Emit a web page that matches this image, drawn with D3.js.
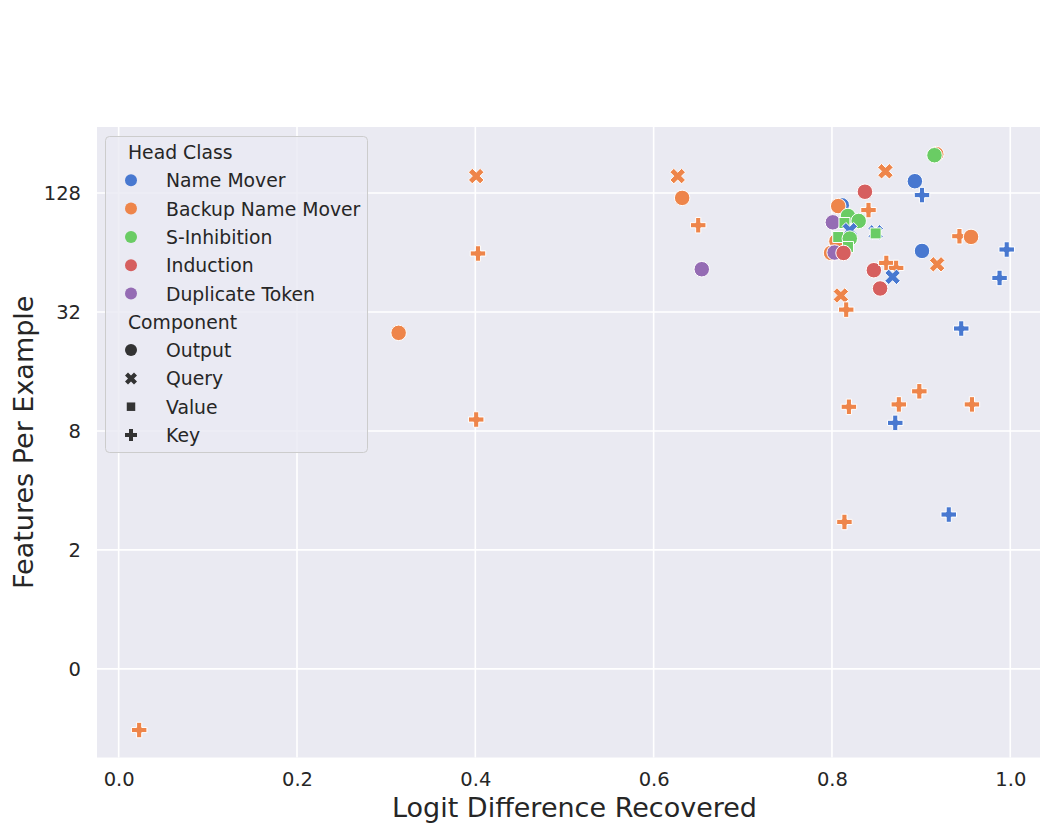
<!DOCTYPE html>
<html>
  <head>
    <title>Features per example vs logit difference</title>
    <script src="https://d3js.org/d3.v7.min.js"></script>
    <style>
      body { margin: 0; background: #fff; }
      text { font-family: "DejaVu Sans", sans-serif; fill: #262626; }
    </style>
  </head>

  <body>
    <svg width="1040" height="828"></svg>

    <script type="text/javascript">
      // legend groups
      var headClasses = ["Name Mover", "Backup Name Mover", "S-Inhibition", "Induction", "Duplicate Token"];
      var components = ["Output", "Query", "Value", "Key"];

      // one entry per head, in drawing order
      var logitDiff = [
        0.917, 0.915, 0.860, 0.893, 0.837, 0.901, 0.627, 0.632, 0.401, 0.403,
        0.650, 0.654, 0.811, 0.807, 0.841, 0.818, 0.830, 0.801, 0.814, 0.820,
        0.849, 0.849, 0.805, 0.807, 0.820, 0.818, 0.799, 0.803, 0.813, 0.847,
        0.861, 0.872, 0.868, 0.854, 0.901, 0.918, 0.810, 0.816, 0.943, 0.956,
        0.996, 0.988, 0.945, 0.898, 0.819, 0.875, 0.957, 0.871, 0.814, 0.931,
        0.314, 0.401, 0.023
      ];
      var featuresPerExample = [
        201.5, 199, 165, 147, 130, 125, 156, 121, 156, 63.3,
        88, 52.7, 111, 110, 105, 98, 92.5, 91, 90.3, 83,
        81, 80, 73, 76.7, 75.3, 68.3, 63.7, 64, 63.7, 52.1,
        56.7, 53.5, 48.2, 42.1, 65.2, 55.8, 38.8, 32.9, 77.4, 76.8,
        66.3, 47.6, 26.4, 12.7, 10.6, 10.9, 10.9, 8.79, 2.77, 3.02,
        25.1, 9.14, 0.245
      ];
      var headClass = [
        "Backup Name Mover", "S-Inhibition", "Backup Name Mover", "Name Mover", "Induction",
        "Name Mover", "Backup Name Mover", "Backup Name Mover", "Backup Name Mover", "Backup Name Mover",
        "Backup Name Mover", "Duplicate Token", "Name Mover", "Backup Name Mover", "Backup Name Mover",
        "S-Inhibition", "S-Inhibition", "Duplicate Token", "S-Inhibition", "Name Mover",
        "Name Mover", "S-Inhibition", "Backup Name Mover", "S-Inhibition", "S-Inhibition",
        "S-Inhibition", "Backup Name Mover", "Duplicate Token", "Induction", "Induction",
        "Backup Name Mover", "Backup Name Mover", "Name Mover", "Induction", "Name Mover",
        "Backup Name Mover", "Backup Name Mover", "Backup Name Mover", "Backup Name Mover", "Backup Name Mover",
        "Name Mover", "Name Mover", "Name Mover", "Backup Name Mover", "Backup Name Mover",
        "Backup Name Mover", "Backup Name Mover", "Name Mover", "Backup Name Mover", "Name Mover",
        "Backup Name Mover", "Backup Name Mover", "Backup Name Mover"
      ];
      var component = [
        "Output", "Output", "Query", "Output", "Output",
        "Key", "Query", "Output", "Query", "Key",
        "Key", "Output", "Output", "Output", "Key",
        "Output", "Output", "Output", "Value", "Query",
        "Query", "Value", "Output", "Value", "Output",
        "Value", "Output", "Output", "Output", "Output",
        "Key", "Key", "Query", "Output", "Output",
        "Query", "Query", "Key", "Key", "Output",
        "Key", "Key", "Key", "Key", "Key",
        "Key", "Key", "Key", "Key", "Key",
        "Output", "Key", "Key"
      ];

      // axis ticks
      var xTicks = [0, 0.2, 0.4, 0.6, 0.8, 1.0];
      var yTicks = [0.5, 2, 8, 32, 128];
      var yTickLabels = ["0", "2", "8", "32", "128"];

      var svg = d3.select("svg");
      var plotLeft = 97, plotRight = 1052, plotTop = 127, plotBottom = 757.5;

      var x = d3.scaleLinear().domain([-0.0243, 1.0468]).range([plotLeft, plotRight]);
      var y = d3.scaleLog().base(2)
        .domain([Math.pow(2, -2.491), Math.pow(2, 8.111)])
        .range([plotBottom, plotTop]);

      var color = d3.scaleOrdinal()
        .domain(headClasses)
        .range(["#4878d0", "#ee854a", "#6acc64", "#d65f5f", "#956cb4"]);

      // matplotlib-like filled markers, s = box size
      function markerPath(kind, s) {
        var h = s / 2;
        var pts;
        if (kind == "Output") {
          return "M" + h + ",0A" + h + "," + h + " 0 1,1 " + (-h) + ",0A" + h + "," + h + " 0 1,1 " + h + ",0Z";
        } else if (kind == "Value") {
          var a = s * 0.3536;
          pts = [[-a, -a], [a, -a], [a, a], [-a, a]];
        } else if (kind == "Key") {
          var t = s / 6;
          pts = [[-t, -h], [t, -h], [t, -t], [h, -t], [h, t], [t, t], [t, h], [-t, h], [-t, t], [-h, t], [-h, -t], [-t, -t]];
        } else {
          var q = s / 4;
          pts = [[-q, -h], [0, -q], [q, -h], [h, -q], [q, 0], [h, q], [q, h], [0, q], [-q, h], [-h, q], [-q, 0], [-h, -q]];
        }
        return "M" + pts.map(function (p) { return p[0].toFixed(2) + "," + p[1].toFixed(2); }).join("L") + "Z";
      }

      svg.append("defs").append("clipPath").attr("id", "plot-clip")
        .append("rect").attr("x", plotLeft).attr("y", plotTop)
        .attr("width", plotRight - plotLeft).attr("height", plotBottom - plotTop);

      svg.append("rect")
        .attr("x", plotLeft).attr("y", plotTop)
        .attr("width", plotRight - plotLeft).attr("height", plotBottom - plotTop)
        .style("fill", "#eaeaf2");

      var grid = svg.append("g").attr("id", "grid");
      grid.selectAll("line.vx")
        .data(xTicks).enter().append("line")
        .attr("x1", function (d) { return x(d); })
        .attr("x2", function (d) { return x(d); })
        .attr("y1", plotTop).attr("y2", plotBottom)
        .style("stroke", "#fff").style("stroke-width", 1.6);
      grid.selectAll("line.hy")
        .data(yTicks).enter().append("line")
        .attr("y1", function (d) { return y(d); })
        .attr("y2", function (d) { return y(d); })
        .attr("x1", plotLeft).attr("x2", plotRight)
        .style("stroke", "#fff").style("stroke-width", 1.6);

      // axes with seaborn look: no domain, no tick marks
      var xAxis = d3.axisBottom(x).tickValues(xTicks).tickFormat(d3.format(".1f")).tickSize(0).tickPadding(15);
      var gx = svg.append("g").attr("transform", "translate(0," + plotBottom + ")").call(xAxis);
      var yAxis = d3.axisLeft(y).tickValues(yTicks)
        .tickFormat(function (d, i) { return yTickLabels[i]; })
        .tickSize(0).tickPadding(16);
      var gy = svg.append("g").attr("transform", "translate(" + plotLeft + ",0)").call(yAxis);
      [gx, gy].forEach(function (g) {
        g.select(".domain").remove();
        g.selectAll("text").style("font-size", "19.5px").style("fill", "#262626")
          .style("font-family", "'DejaVu Sans', sans-serif");
      });

      var idx = d3.range(logitDiff.length);
      svg.append("g").attr("id", "points").attr("clip-path", "url(#plot-clip)")
        .selectAll("path")
        .data(idx).enter().append("path")
        .attr("d", function (i) { return markerPath(component[i], 15.5); })
        .attr("transform", function (i) {
          return "translate(" + x(logitDiff[i]) + "," + y(featuresPerExample[i]) + ")";
        })
        .style("fill", function (i) { return color(headClass[i]); })
        .style("stroke", "#fff").style("stroke-width", 1);

      // axis titles
      svg.append("text")
        .attr("x", (plotLeft + plotRight) / 2).attr("y", 817)
        .attr("text-anchor", "middle")
        .style("font-size", "27px")
        .text("Logit Difference Recovered");
      svg.append("text")
        .attr("transform", "translate(33," + (plotTop + plotBottom) / 2 + ") rotate(-90)")
        .attr("text-anchor", "middle")
        .style("font-size", "27px")
        .text("Features Per Example");

      // legend
      var legend = svg.append("g").attr("id", "legend");
      legend.append("rect")
        .attr("x", 105.5).attr("y", 136.5).attr("width", 262).attr("height", 316)
        .attr("rx", 4)
        .style("fill", "#eaeaf2").style("fill-opacity", 0.8)
        .style("stroke", "#cccccc").style("stroke-width", 1);

      var rows = [{ title: "Head Class" }]
        .concat(headClasses.map(function (h) { return { label: h, fill: color(h), shape: "Output" }; }))
        .concat([{ title: "Component" }])
        .concat(components.map(function (c) { return { label: c, fill: "#333333", shape: c }; }));

      rows.forEach(function (r, i) {
        var cy = 152 + i * 28.3;
        if (r.title) {
          legend.append("text").attr("x", 128).attr("y", cy + 7)
            .style("font-size", "18.8px").text(r.title);
        } else {
          legend.append("path")
            .attr("d", markerPath(r.shape, 12))
            .attr("transform", "translate(131," + cy + ")")
            .style("fill", r.fill);
          legend.append("text").attr("x", 166).attr("y", cy + 7)
            .style("font-size", "18.8px").text(r.label);
        }
      });
    </script>
  </body>
</html>
